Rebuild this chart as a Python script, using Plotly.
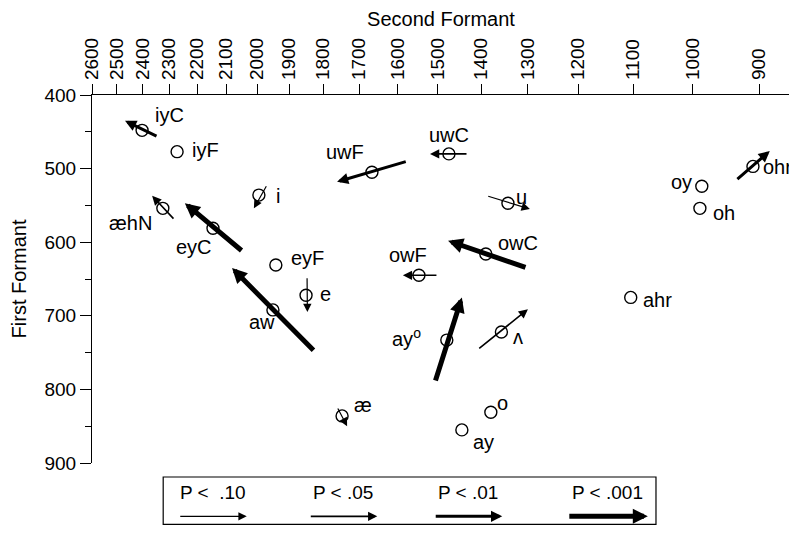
import math
import plotly.graph_objects as go

# ---- data ----
vowels = ["iyC", "iyF", "i", "æhN", "eyC", "eyF", "e", "aw", "uwF", "uwC", "u",
          "owC", "owF", "oy", "oh", "ohr", "ahr", "ay<sup>o</sup>", "ʌ", "æ", "o", "ay"]
f2 = [2401, 2271, 1994, 2323, 2145, 1941, 1850, 1950, 1666, 1474, 1342,
      1390, 1546, 986, 989, 909, 1104, 1479, 1356, 1747, 1379, 1444]
f1 = [448, 477, 536, 554, 581, 631, 672, 692, 505, 480, 547,
      616, 645, 524, 554, 497, 675, 733, 722, 836, 831, 855]
# arrow tails / heads (None = no significant shift)
f2_from = [2341, None, 1968, 2279, 2045, None, 1847, 1824, 1575, 1430, 1388,
           1302, 1500, None, None, 934, None, 1507, 1408, 1761, None, None]
f1_from = [457, None, 522, 570, 613, None, 647, 749, 490, 480, 537,
           635, 645, None, None, 516, None, 790, 746, 824, None, None]
f2_to = [2467, None, 2010, 2363, 2243, None, 1846, 2081, 1761, 1519, 1296,
         1476, 1586, None, None, 885, None, 1444, 1300, 1733, None, None]
f1_to = [435, None, 554, 537, 547, None, 695, 635, 518, 480, 555,
         598, 645, None, None, 476, None, 675, 691, 850, None, None]
# significance level index: 0 = P<.10, 1 = P<.05, 2 = P<.01, 3 = P<.001
sig = [2, None, 0, 1, 3, None, 0, 3, 2, 1, 0,
       3, 1, None, None, 2, None, 3, 1, 0, None, None]
# label offsets in pixels (dx, dy screen-up)
lab_dx = [27, 28, 19, -32, -19, 32, 19, -11, -27, 0, 14, 32, -11, -20, 24, 25, 27, -40, 17, 21, 12, 22]
lab_dy = [15, 2, -1, -15, -19, 7, 1, -12, 20, 19, 6, 11, 20, 4, -5, -1, -3, 3, -5, 11, 9, -12]

x_ticks = list(range(900, 2700, 100))
y_ticks = [400, 500, 600, 700, 800, 900]
legend_labels = ["P <  .10", "P < .05", "P < .01", "P < .001"]

# ---- styles ----
widths = [1.2, 1.6, 3.0, 5.0]
heads = [1.4, 1.15, 0.75, 0.6]
FONT = "Liberation Sans, Arial, Helvetica, sans-serif"

fig = go.Figure()
fig.add_trace(go.Scatter(
    x=f2, y=f1, mode="markers",
    marker=dict(symbol="circle-open", size=12, color="black", line=dict(width=1.4)),
    hoverinfo="skip", showlegend=False))

ann = []
for i in range(len(vowels)):
    if sig[i] is not None:
        s = sig[i]
        ann.append(dict(
            x=math.log10(f2_to[i]), y=f1_to[i], ax=math.log10(f2_from[i]), ay=f1_from[i],
            xref="x", yref="y", axref="x", ayref="y", text="", showarrow=True,
            arrowhead=2, arrowwidth=widths[s], arrowsize=heads[s], arrowcolor="black",
            standoff=0, startstandoff=0))
    ann.append(dict(
        x=math.log10(f2[i]), y=f1[i], xref="x", yref="y", text=vowels[i],
        showarrow=False, xshift=lab_dx[i], yshift=lab_dy[i],
        xanchor="center", yanchor="middle",
        font=dict(size=20, color="black", family=FONT)))

# legend box (below the plot)
fig.add_shape(type="rect", xref="paper", yref="paper",
              x0=0.102, x1=0.808, y0=-0.167, y1=-0.038,
              line=dict(color="black", width=1.2), fillcolor="white")
leg_x = [0.173, 0.360, 0.539, 0.739]
for k, lbl in enumerate(legend_labels):
    ann.append(dict(x=leg_x[k], y=-0.08, xref="paper", yref="paper",
                    text=lbl.replace("  ", "&nbsp; "), xanchor="center", yanchor="middle",
                    showarrow=False, font=dict(size=19, color="black", family=FONT)))
    half = 34 if k < 3 else 40
    ann.append(dict(x=leg_x[k], y=-0.145, xref="paper", yref="paper", text="",
                    showarrow=True, ax=-2 * half, ay=0, xshift=half,
                    arrowhead=2, arrowwidth=widths[k], arrowsize=heads[k],
                    arrowcolor="black", standoff=0))

# the page body adds an 8px offset, so the figure is sized to fit the window
fig.update_layout(
    width=789, height=517, margin=dict(l=84, r=7, t=87, b=62),
    plot_bgcolor="white", paper_bgcolor="white",
    font=dict(family=FONT, size=19, color="black"),
    annotations=ann, showlegend=False,
    xaxis=dict(type="log", side="top", range=[math.log10(2600), math.log10(857)],
               tickvals=x_ticks, ticktext=[str(v) for v in x_ticks], tickangle=-90,
               ticks="outside", ticklen=10, tickwidth=1.2, tickcolor="black",
               showline=True, linecolor="black", linewidth=1.2, showgrid=False,
               zeroline=False, tickfont=dict(size=19), automargin=False,
               title=dict(text="Second Formant", standoff=10, font=dict(size=20))),
    yaxis=dict(range=[900, 400], tickvals=y_ticks, ticks="outside", ticklen=11,
               tickwidth=1.2, tickcolor="black", showline=True, linecolor="black",
               linewidth=1.2, showgrid=False, zeroline=False, tickfont=dict(size=19),
               automargin=False,
               minor=dict(tickvals=[450, 550, 650, 750, 850], ticks="outside", ticklen=6,
                          tickwidth=1.2, tickcolor="black", showgrid=False),
               title=dict(text="First Formant", standoff=16, font=dict(size=20))),
)
fig.write_html("out.html")
